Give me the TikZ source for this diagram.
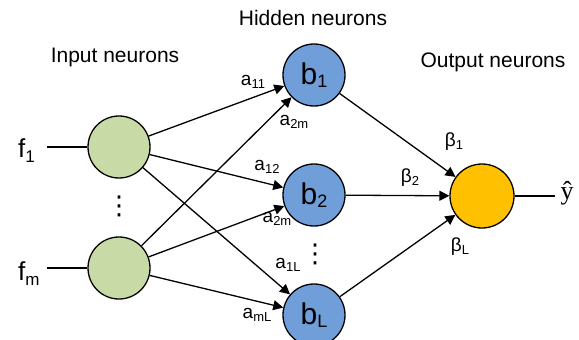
\documentclass[tikz,border=0pt]{standalone}
\usepackage{fontspec}
\setmainfont{Liberation Sans}
\newfontfamily\seriffont{Liberation Serif}
\newfontfamily\dotsfont{DejaVu Sans}
\usetikzlibrary{arrows.meta}
\definecolor{ingreen}{HTML}{C8DAA6}
\definecolor{hidblue}{HTML}{6F9ED9}
\definecolor{outgold}{HTML}{FFC000}
\newcommand\wsub[1]{\raisebox{-3pt}{\fontsize{13}{13}\selectfont #1}}
\newcommand\bsub[1]{\raisebox{-3pt}{\fontsize{18}{18}\selectfont #1}}
\newcommand\fsub[1]{\raisebox{-5pt}{\fontsize{17}{17}\selectfont #1}}
\tikzset{
  neuron/.style={circle, draw=black, line width=1.3pt, minimum size=62pt, inner sep=0pt},
  innode/.style={neuron, fill=ingreen},
  hidnode/.style={neuron, fill=hidblue, font=\fontsize{30}{30}\selectfont},
  outnode/.style={neuron, fill=outgold, minimum size=64pt},
  heading/.style={font=\fontsize{21}{24}\selectfont, inner sep=0pt},
  wlabel/.style={font=\fontsize{19}{20}\selectfont, inner sep=0pt},
  conn/.style={line width=1.3pt},
  arr/.style={conn, -{Triangle[length=10pt,width=10pt]}},
  vdotsnode/.style={font=\dotsfont\fontsize{26}{26}\selectfont, inner sep=0pt}
}
\begin{document}
\begin{tikzpicture}[x=1pt,y=-1pt]
\useasboundingbox (0,0) rectangle (579,340);
% headings
\node[heading] (hHid) at (313,18) {Hidden neurons};
\node[heading] (hIn) at (115,57) {Input neurons};
\node[heading] (hOut) at (493,62) {Output neurons};
% input neurons
\node[innode] (in1) at (119,147) {};
\node[innode] (inm) at (119,268) {};
\node[vdotsnode] (indots) at (119,206) {⋮};
% hidden neurons
\node[hidnode] (b1) at (314,75) {b\bsub{1}};
\node[hidnode] (b2) at (314,195) {b\bsub{2}};
\node[hidnode] (bL) at (314,315) {b\bsub{L}};
\node[vdotsnode] (hiddots) at (315,254) {⋮};
% output neuron
\node[outnode] (out) at (482,196) {};
% inputs
\node[font=\fontsize{26}{26}\selectfont, inner sep=0pt, anchor=base west] (f1) at (18,157) {f\fsub{1}};
\node[font=\fontsize{26}{26}\selectfont, inner sep=0pt, anchor=base west] (fm) at (18,280) {f\fsub{m}};
\coordinate (f1e) at (47,147);
\coordinate (fme) at (47,268);
\draw[conn] (f1e) -- (in1);
\draw[conn] (fme) -- (inm);
% input to hidden
\draw[arr] (in1) -- (b1);
\draw[arr] (in1) -- (b2);
\draw[arr] (in1) -- (bL);
\draw[arr] (inm) -- (b1);
\draw[arr] (inm) -- (b2);
\draw[arr] (inm) -- (bL);
% hidden to output
\draw[arr] (b1) -- (out);
\draw[arr] (b2) -- (out);
\draw[arr] (bL) -- (out);
% output
\coordinate (yend) at (555,196);
\draw[conn] (out) -- (yend);
\node[font=\seriffont\fontsize{26}{26}\selectfont, inner sep=0pt, anchor=base] (yhat) at (567,199) {ŷ};
% weight labels
\node[wlabel] (la11) at (253,82) {a\wsub{11}};
\node[wlabel] (la2m) at (294,122) {a\wsub{2m}};
\node[wlabel] (la12) at (267,167) {a\wsub{12}};
\node[wlabel] (la2mb) at (277,219) {a\wsub{2m}};
\node[wlabel] (la1L) at (288,265) {a\wsub{1L}};
\node[wlabel] (lamL) at (257,315) {a\wsub{mL}};
\node[wlabel] (lb1) at (454,142) {β\wsub{1}};
\node[wlabel] (lb2) at (410,178) {β\wsub{2}};
\node[wlabel] (lbL) at (460,247) {β\wsub{L}};
\end{tikzpicture}
\end{document}
